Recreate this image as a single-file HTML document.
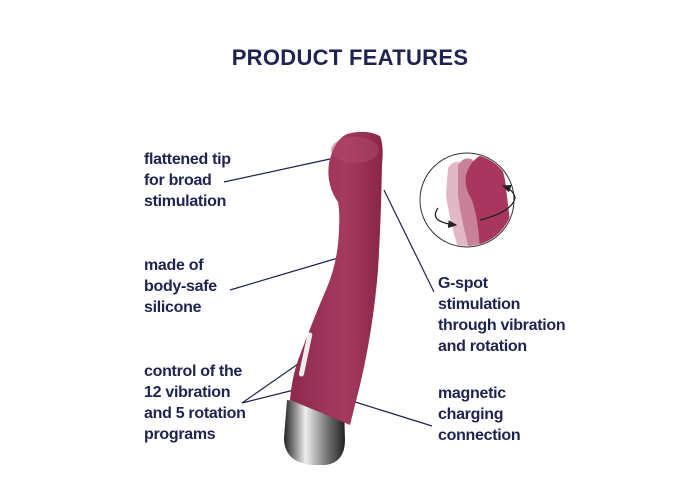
<!DOCTYPE html>
<html><head><style>
body{margin:0;width:700px;height:500px;background:#fff;overflow:hidden;position:relative;font-family:"Liberation Sans",sans-serif;color:#1e2352}
.t{position:absolute;font-size:16px;line-height:21px;font-weight:bold;letter-spacing:-0.3px}
h1{position:absolute;top:45px;left:0;width:700px;text-align:center;margin:0;font-size:22px;font-weight:900;letter-spacing:0.3px;color:#1e2352}
</style></head><body>
<h1>PRODUCT FEATURES</h1>
<div class="t" style="left:144px;top:149px">flattened tip<br>for broad<br>stimulation</div>
<div class="t" style="left:144px;top:255px">made of<br>body-safe<br>silicone</div>
<div class="t" style="left:144px;top:361px">control of the<br>12 vibration<br>and 5 rotation<br>programs</div>
<div class="t" style="left:438px;top:273px">G-spot<br>stimulation<br>through vibration<br>and rotation</div>
<div class="t" style="left:438px;top:383px">magnetic<br>charging<br>connection</div>
<svg width="700" height="500" style="position:absolute;left:0;top:0">
<defs>
<linearGradient id="ch" x1="0" x2="1"><stop offset="0" stop-color="#222"/><stop offset="0.35" stop-color="#eee"/><stop offset="0.7" stop-color="#777"/><stop offset="1" stop-color="#222"/></linearGradient>
<linearGradient id="mr" x1="0" x2="1"><stop offset="0" stop-color="#8e2a4e"/><stop offset="0.6" stop-color="#a63a60"/><stop offset="1" stop-color="#8a2548"/></linearGradient>
<clipPath id="cc"><circle cx="467" cy="200" r="46"/></clipPath>
<marker id="ah" markerWidth="8" markerHeight="8" refX="6" refY="4" orient="auto"><path d="M0,1 L7,4 L0,7 Z" fill="#222"/></marker>
</defs>
<g stroke="#1e2352" stroke-width="1.2" fill="none">
<line x1="224" y1="182" x2="330" y2="159"/>
<line x1="230" y1="290" x2="338" y2="258"/>
<line x1="242" y1="403" x2="308" y2="357"/>
<line x1="242" y1="403" x2="294" y2="390"/>
<line x1="384" y1="190" x2="434" y2="292"/>
<line x1="352" y1="401" x2="432" y2="426"/>
</g>
<path d="M287,400 L284,438 Q284,462 312,465 L326,465 Q345,462 345,440 L344,405 Z" fill="url(#ch)"/>
<path d="M347,134 Q366,129 380,136 Q384,145 382,165 Q381,220 378,270 Q373,330 360,385 L350,425 Q320,412 290,400 Q292,375 300,355 Q313,320 328,285 Q338,260 339,230 Q340,212 338,202 Q326,185 329,163 Q334,140 347,134 Z" fill="url(#mr)"/>
<ellipse cx="355" cy="150" rx="24" ry="13" fill="#b04a6e" opacity="0.5"/>
<rect x="303" y="332" width="5" height="45" rx="2.5" fill="#eee" transform="rotate(12 306 355)"/>
<circle cx="467" cy="200" r="47" fill="#fff" stroke="#333" stroke-width="1"/>
<g clip-path="url(#cc)">
<path d="M448,168 Q455,158 462,164 Q468,175 470,190 Q472,220 480,260 L462,260 Q450,225 446,195 Z" fill="#e2b7c6"/>
<path d="M458,165 Q465,155 473,160 Q478,175 480,195 Q482,225 490,260 L472,260 Q462,225 458,195 Z" fill="#c98099"/>
<path d="M466,175 Q472,156 488,153 Q500,155 505,180 Q510,220 514,260 L480,260 Q480,225 472,200 Q464,188 466,175 Z" fill="#a8365e"/>
</g>
<path d="M438,208 Q428,222 456,225" stroke="#222" fill="none" stroke-width="1.3" marker-end="url(#ah)"/>
<path d="M480,220 Q512,212 515,198 Q514,190 503,186" stroke="#222" fill="none" stroke-width="1.3" marker-end="url(#ah)"/>
</svg>
</body></html>
